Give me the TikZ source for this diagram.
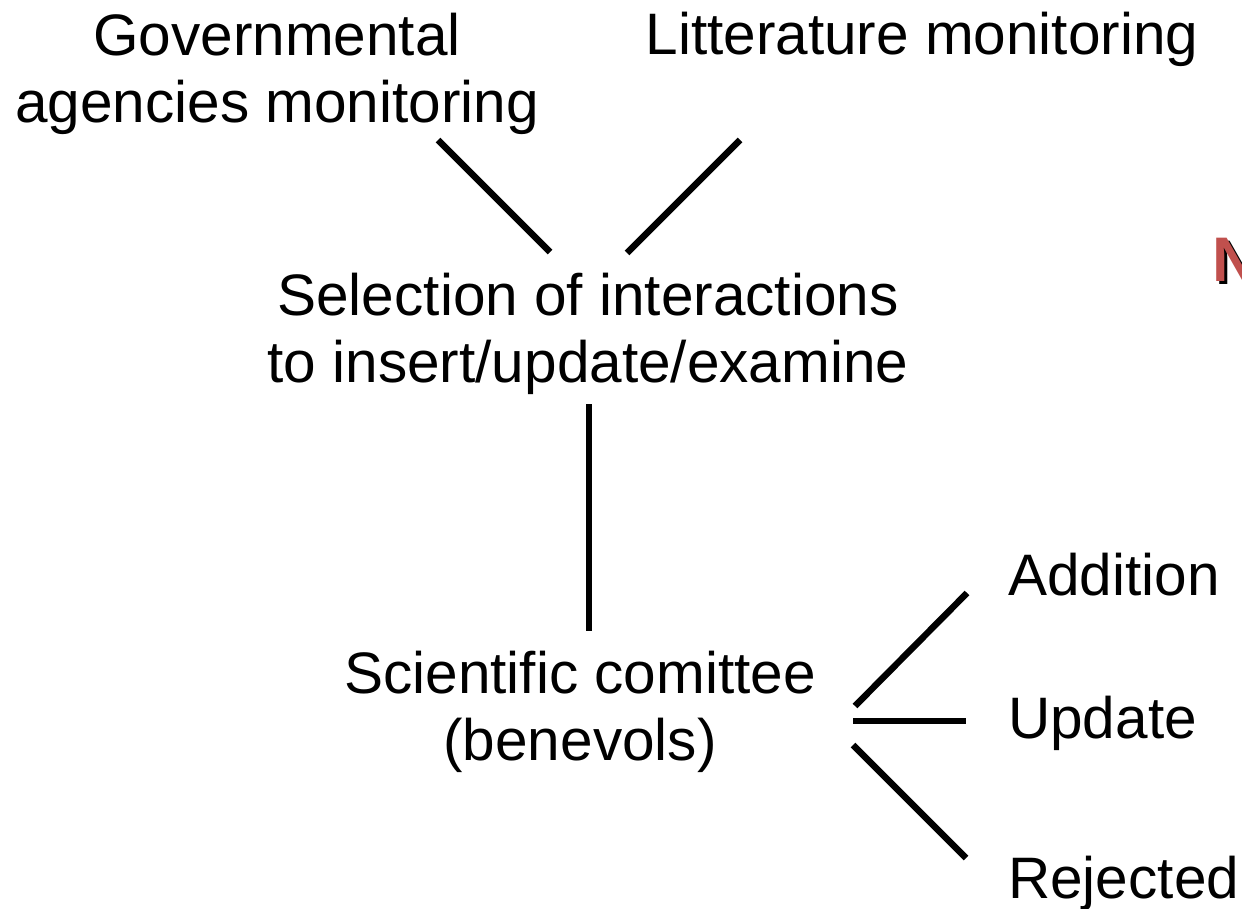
\documentclass[tikz,border=0pt]{standalone}
\usepackage{fontspec}
\setmainfont{Liberation Sans}
\definecolor{nred}{HTML}{C0504D}
\begin{document}
\begin{tikzpicture}[x=1pt,y=-1pt,
  lbl/.style={inner sep=0pt,font=\fontsize{58.5}{67}\selectfont,align=center},
  nglyph/.style={inner sep=0pt,anchor=base west,font=\bfseries\fontsize{63}{63}\selectfont},
  conn/.style={line width=6.5pt,black}]
\useasboundingbox (0,0) rectangle (1242,909);
\clip (0,0) rectangle (1242,909);
\node[lbl,anchor=north] (gov) at (277,13) {Governmental\\agencies monitoring};
\node[lbl,anchor=base] (lit) at (922,55) {Litterature monitoring};
\node[lbl,anchor=north] (sel) at (588,273) {Selection of interactions\\to insert/update/examine};
\node[lbl,anchor=north] (sci) at (580,651) {Scientific comittee\\(benevols)};
\node[lbl,anchor=base west] (add) at (1008,595) {Addition};
\node[lbl,anchor=base west] (upd) at (1008,738) {Update};
\node[lbl,anchor=base west] (rej) at (1008,898) {Rejected};
\node[nglyph,text=black] (nshadow) at (1215,285) {N};
\node[nglyph,text=nred] (nmark) at (1212,282) {N};
\coordinate (g1) at (438,140); \coordinate (g2) at (550,252);
\coordinate (l1) at (740,140); \coordinate (l2) at (627,253);
\coordinate (s1) at (589,404); \coordinate (s2) at (589,631);
\coordinate (a1) at (855,706); \coordinate (a2) at (967,593);
\coordinate (u1) at (853,721); \coordinate (u2) at (966,721);
\coordinate (r1) at (853,745); \coordinate (r2) at (966,858);
\draw[conn] (g1) -- (g2);
\draw[conn] (l1) -- (l2);
\draw[conn] (s1) -- (s2);
\draw[conn] (a1) -- (a2);
\draw[conn] (u1) -- (u2);
\draw[conn] (r1) -- (r2);
\end{tikzpicture}
\end{document}
